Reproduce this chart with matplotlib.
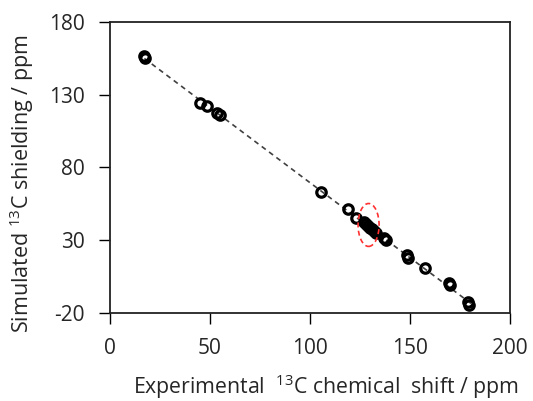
import numpy as np
import matplotlib
matplotlib.use("Agg")
import matplotlib.pyplot as plt
from matplotlib.patches import Ellipse

plt.rcParams['font.family'] = ['Open Sans', 'DejaVu Sans']
plt.rcParams['axes.unicode_minus'] = False

exp_shift = [17.2, 17.4, 45.0, 48.5, 53.5, 54.8, 105.3, 118.8, 123.0,
             127.0, 128.0, 129.0, 130.0, 131.0, 132.0, 133.0,
             137.0, 138.0, 148.5, 148.8, 157.5, 169.3, 170.0, 178.8, 179.5]
sim_shield = [156.5, 155.0, 124.3, 122.3, 117.5, 116.3, 63.4, 51.3, 45.0,
              42.5, 41.0, 40.0, 38.5, 37.5, 36.5, 35.0,
              31.5, 30.0, 19.8, 17.8, 10.7, 0.5, -1.0, -12.5, -14.5]

x_ticks = [0, 50, 100, 150, 200]
y_ticks = [-20, 30, 80, 130, 180]

fig = plt.figure(figsize=(5.33, 4.01), dpi=100)
ax = fig.add_axes([0.2064, 0.2195, 0.7504, 0.7256])

x = np.array(exp_shift)
y = np.array(sim_shield)
k, b = np.polyfit(x, y, 1)
xl = np.array([x.min(), x.max() + 1.5])
ax.plot(xl, k * xl + b, color='#404040', lw=1.2, ls=(0, (3, 2.5)), zorder=1)

ax.plot(x, y, ls='none', marker='o', ms=6.8, mfc='none', mec='black', mew=2.3, zorder=2)

ell = Ellipse((129.3, 40.5), width=10.5, height=29.5, fill=False, ec='#ff3030',
              lw=1.2, ls=(0, (3, 2)), zorder=3)
ax.add_patch(ell)

ax.set_xlim(0, 200)
ax.set_ylim(-20, 180)
ax.set_xticks(x_ticks)
ax.set_yticks(y_ticks)
ax.tick_params(direction='out', length=8, width=1, labelsize=15, colors='black',
               labelcolor='#262626')
ax.tick_params(axis='x', pad=10)
ax.tick_params(axis='y', pad=10)
for s in ax.spines.values():
    s.set_linewidth(1.3)
    s.set_color('#222222')

ax.set_xlabel(r'Experimental  $^{\mathregular{13}}$C chemical  shift / ppm', fontsize=15.3,
              color='#262626')
ax.xaxis.set_label_coords(0.54, -0.205)
ax.set_ylabel(r'Simulated $^{\mathregular{13}}$C shielding / ppm', fontsize=15.5,
              color='#262626')
ax.yaxis.set_label_coords(-0.185, 0.445)

fig.savefig('out.png', dpi=100)
